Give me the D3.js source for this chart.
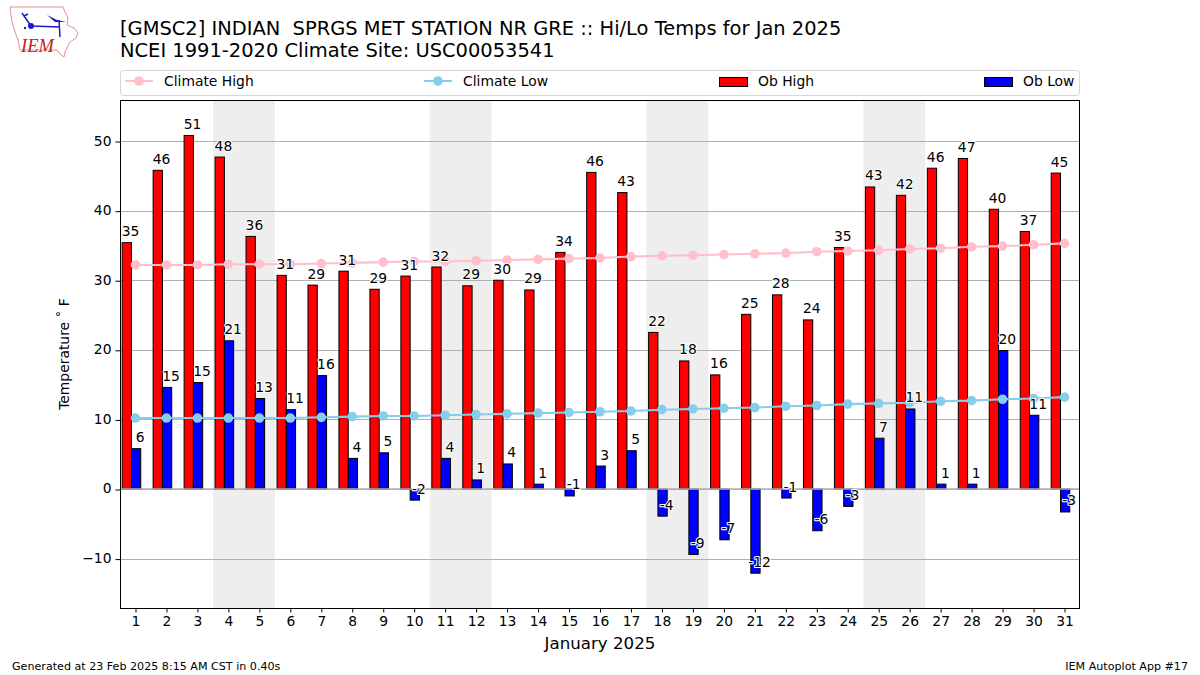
<!DOCTYPE html>
<html><head><meta charset="utf-8">
<script src="https://cdn.jsdelivr.net/npm/d3@7/dist/d3.min.js"></script>
<style>html,body{margin:0;padding:0;background:#fff}svg{display:block}text{font-family:"DejaVu Sans",sans-serif;fill:#000}</style>
</head><body><svg id="c" width="1200" height="675"></svg>
<script>
const days = d3.range(1, 32);
const obHigh = [35.4,45.8,50.8,47.7,36.3,30.7,29.3,31.3,28.7,30.6,31.9,29.2,30.0,28.6,34.0,45.5,42.6,22.5,18.4,16.4,25.1,27.9,24.3,34.7,43.4,42.2,46.1,47.5,40.2,37.0,45.4];
const obLow = [5.8,14.6,15.3,21.3,13.0,11.4,16.3,4.4,5.2,-1.6,4.4,1.3,3.6,0.7,-1.0,3.3,5.5,-3.9,-9.4,-7.3,-12.1,-1.3,-6.0,-2.5,7.3,11.5,0.7,0.7,19.9,10.6,-3.3];
const highLabels = [35,46,51,48,36,31,29,31,29,31,32,29,30,29,34,46,43,22,18,16,25,28,24,35,43,42,46,47,40,37,45];
const lowLabels = [6,15,15,21,13,11,16,4,5,-2,4,1,4,1,-1,3,5,-4,-9,-7,-12,-1,-6,-3,7,11,1,1,20,11,-3];
const climHigh = [32.2,32.2,32.2,32.3,32.3,32.3,32.4,32.5,32.6,32.7,32.7,32.8,32.9,33.0,33.1,33.2,33.4,33.5,33.6,33.7,33.8,33.9,34.1,34.2,34.3,34.5,34.6,34.8,34.9,35.1,35.3];
const climLow = [10.2,10.2,10.2,10.2,10.2,10.2,10.3,10.4,10.5,10.5,10.6,10.7,10.8,10.9,11.0,11.1,11.2,11.4,11.5,11.6,11.7,11.9,12.0,12.2,12.3,12.4,12.6,12.7,12.9,13.0,13.2];
const weekends = [[3.5,5.5],[10.5,12.5],[17.5,19.5],[24.5,26.5]];
const yTicks = [-10,0,10,20,30,40,50];

const W = {l:120,r:1080,t:100,b:608};
const x = d3.scaleLinear().domain([0.5,31.5]).range([W.l,W.r]);
const y = d3.scaleLinear().domain([-17.1,55.9]).range([W.b,W.t]);
const svg = d3.select("#c");

// logo
const logo = svg.append("g");
logo.append("path").attr("fill","none").attr("stroke","#e59090").attr("stroke-width",1)
 .attr("d","M10,7 L63,7 L65,12 L68,18 L67,25 L74,28 L78,33 L76,38 L70,42 L67,48 L65,52 L64,57 L60,54 L57,50 L20,50 L18,40 L15,32 L12,22 L11,15 Z");
logo.append("path").attr("fill","none").attr("stroke","#1a1ad0").attr("stroke-width",1.5)
 .attr("d","M31,26 L60,27 M59,20 L60,37 M31,26 L24,16 M22,13 L24,16 L28,14");
logo.append("circle").attr("cx",31).attr("cy",26).attr("r",3).attr("fill","#1a1ad0");
logo.append("circle").attr("cx",25).attr("cy",28).attr("r",1.2).attr("fill","#1a1ad0");
logo.append("path").attr("fill","#1a1ad0").attr("d","M47,15 L57,20 L66,22 L55,22 Z");
logo.append("text").attr("x",21).attr("y",52).style("font-family","Liberation Serif").attr("font-style","italic").attr("font-size",18.5).style("fill","#c42020").text("IEM");

// titles
svg.append("text").attr("x",120).attr("y",35).attr("font-size",19.44).style("white-space","pre").text("[GMSC2] INDIAN  SPRGS MET STATION NR GRE :: Hi/Lo Temps for Jan 2025");
svg.append("text").attr("x",120).attr("y",57).attr("font-size",19.44).text("NCEI 1991-2020 Climate Site: USC00053541");

// weekends
svg.append("g").selectAll("rect").data(weekends).join("rect")
 .attr("x",d=>x(d[0])).attr("width",d=>x(d[1])-x(d[0])).attr("y",W.t).attr("height",W.b-W.t).attr("fill","#eeeeee");

// grid
svg.append("g").selectAll("line").data(yTicks).join("line")
 .attr("x1",W.l).attr("x2",W.r).attr("y1",d=>Math.round(y(d))+0.5).attr("y2",d=>Math.round(y(d))+0.5)
 .attr("stroke","#b0b0b0").attr("stroke-width",1);

// bars
const bw = 0.3;
svg.append("g").selectAll("rect").data(days).join("rect")
 .attr("x",d=>x(d-0.43)).attr("width",x(bw)-x(0))
 .attr("y",(d,i)=>Math.min(y(obHigh[i]),y(0))).attr("height",(d,i)=>Math.abs(y(obHigh[i])-y(0)))
 .attr("fill","#ff0000").attr("stroke","#000").attr("stroke-width",1);
svg.append("g").selectAll("rect").data(days).join("rect")
 .attr("x",d=>x(d-0.13)).attr("width",x(bw)-x(0))
 .attr("y",(d,i)=>Math.min(y(obLow[i]),y(0))).attr("height",(d,i)=>Math.abs(y(obLow[i])-y(0)))
 .attr("fill","#0000ff").attr("stroke","#000").attr("stroke-width",1);

// zero line above the bars
svg.append("line").attr("x1",W.l).attr("x2",W.r).attr("y1",y(0)).attr("y2",y(0)).attr("stroke","#b0b0b0").attr("stroke-width",1.6);

// climate lines
function clim(vals,color){
 const line = d3.line().x((d,i)=>x(days[i])).y(d=>y(d));
 svg.append("path").datum(vals).attr("d",line).attr("fill","none").attr("stroke",color).attr("stroke-width",2.08);
 svg.append("g").selectAll("circle").data(vals).join("circle")
  .attr("cx",(d,i)=>x(days[i])).attr("cy",d=>y(d)).attr("r",4.8).attr("fill",color);
}
clim(climHigh,"#ffc0cb");
clim(climLow,"#87ceeb");

// value labels
function labels(vals,labs,dx){
 svg.append("g").selectAll("text").data(days).join("text")
  .attr("x",d=>x(d+dx)).attr("y",(d,i)=>y(vals[i])-6.5)
  .attr("text-anchor","middle").attr("font-size",13.89)
  .attr("paint-order","stroke").attr("stroke","#fff").attr("stroke-width",2).attr("stroke-linejoin","round")
  .text((d,i)=>String(labs[i]));
}
labels(obHigh,highLabels,-0.16);
labels(obLow,lowLabels,0.15);

// axes
const xAxis = d3.axisBottom(x).tickValues(days).tickFormat(d3.format("d")).tickSize(4.5).tickPadding(4);
const yAxis = d3.axisLeft(y).tickValues(yTicks).tickFormat(d=>String(d).replace("-","\u2212")).tickSize(4.5).tickPadding(4);
const gx = svg.append("g").attr("transform",`translate(0,${W.b})`).call(xAxis);
const gy = svg.append("g").attr("transform",`translate(${W.l},0.5)`).call(yAxis);
[gx,gy].forEach(g=>{g.select(".domain").remove();g.selectAll("text").attr("font-size",13.89).style("font-family","DejaVu Sans");g.selectAll("line").attr("stroke","#000");});
gy.selectAll("text").attr("dy","0.25em");
svg.append("rect").attr("x",W.l+0.5).attr("y",W.t+0.5).attr("width",W.r-W.l-1).attr("height",W.b-W.t).attr("fill","none").attr("stroke","#000").attr("stroke-width",1);

// axis titles
svg.append("text").attr("x",600).attr("y",649).attr("text-anchor","middle").attr("font-size",16.67).text("January 2025");
svg.append("text").attr("transform","translate(69,354) rotate(-90)").attr("text-anchor","middle").attr("font-size",13.89).text("Temperature \u02da F");

// legend
svg.append("rect").attr("x",120.5).attr("y",70.5).attr("width",959).attr("height",25).attr("rx",3).attr("fill","#fff").attr("stroke","#d5d5d5");
const legY = 81;
[["Climate High","#ffc0cb",125,164],["Climate Low","#87ceeb",424,463]].forEach(([t,c,a,b])=>{
 svg.append("line").attr("x1",a).attr("x2",a+28).attr("y1",legY).attr("y2",legY).attr("stroke",c).attr("stroke-width",2.08);
 svg.append("circle").attr("cx",a+14).attr("cy",legY).attr("r",4.8).attr("fill",c);
 svg.append("text").attr("x",b).attr("y",legY+5).attr("font-size",13.89).text(t);
});
[["Ob High","#ff0000",719,758],["Ob Low","#0000ff",984,1023]].forEach(([t,c,a,b])=>{
 svg.append("rect").attr("x",a+0.5).attr("y",77.5).attr("width",28).attr("height",9).attr("fill",c).attr("stroke","#000");
 svg.append("text").attr("x",b).attr("y",legY+5).attr("font-size",13.89).text(t);
});

// footer
svg.append("text").attr("x",12).attr("y",670).attr("font-size",11.11).text("Generated at 23 Feb 2025 8:15 AM CST in 0.40s");
svg.append("text").attr("x",1188).attr("y",670).attr("text-anchor","end").attr("font-size",11.11).text("IEM Autoplot App #17");
</script></body></html>
